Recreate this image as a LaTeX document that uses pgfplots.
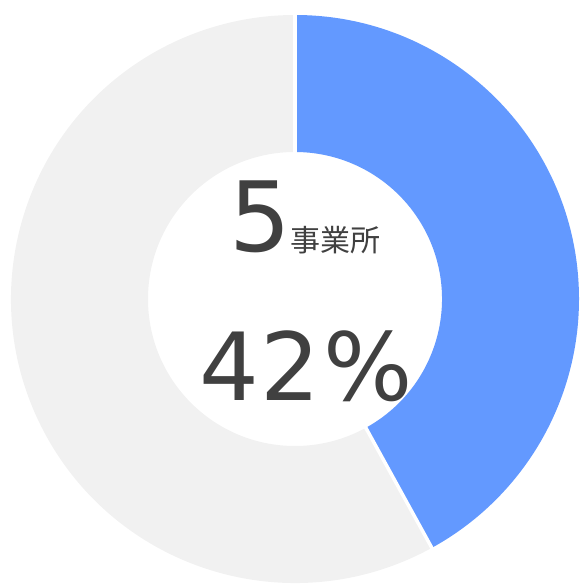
\documentclass[border=0pt]{standalone}
\usepackage{pgfplots}
\usepackage{pgfplotstable}
\pgfplotsset{compat=1.18}
\usepackage{fontspec}
\setmainfont{DejaVu Sans}
\newfontfamily\cjk{Noto Sans CJK JP}

\definecolor{share}{RGB}{99,153,255}
\definecolor{rest}{RGB}{241,241,241}
\definecolor{txt}{RGB}{64,64,64}

% share of the total, in percent
\pgfplotstableread{
part value
share 42
rest 58
}\donut

\begin{document}
\begin{tikzpicture}
\begin{axis}[
  hide axis,
  x=1pt, y=1pt,
  xmin=-295, xmax=285,
  ymin=-286, ymax=299,
  clip=true,
]
\path (rel axis cs:0,0) rectangle (rel axis cs:1,1);
\pgfplotstablegetelem{0}{value}\of\donut
\pgfmathsetmacro\angA{90-3.6*\pgfplotsretval}
\pgfmathsetmacro\Ro{284}
\pgfmathsetmacro\Ri{147}
% blue segment
\fill[share] (axis cs:0,\Ro) arc[start angle=90, end angle=\angA, radius=\Ro pt]
  -- (axis cs:{\Ri*cos(\angA)},{\Ri*sin(\angA)})
  arc[start angle=\angA, end angle=90, radius=\Ri pt] -- cycle;
% grey segment
\fill[rest] (axis cs:{\Ro*cos(\angA)},{\Ro*sin(\angA)}) arc[start angle=\angA, end angle=-270, radius=\Ro pt]
  -- (axis cs:0,\Ri)
  arc[start angle=90, end angle=\angA+360, radius=\Ri pt] -- cycle;
% separators
\draw[white, line width=3.5pt] (axis cs:0,\Ri-2) -- (axis cs:0,\Ro+5);
\draw[white, line width=3.5pt] (axis cs:{(\Ri-2)*cos(\angA)},{(\Ri-2)*sin(\angA)})
  -- (axis cs:{(\Ro+5)*cos(\angA)},{(\Ro+5)*sin(\angA)});
% labels
\node[txt, anchor=base, inner sep=0pt] at (axis cs:10,47)
  {\fontsize{97}{97}\selectfont 5\kern-1pt{\cjk\fontsize{30}{30}\selectfont 事業所}};
\node[txt, anchor=base, inner sep=0pt] at (axis cs:11,-102)
  {\fontsize{94}{94}\selectfont 4\kern2pt 2\kern3pt\%};
\end{axis}
\end{tikzpicture}
\end{document}
